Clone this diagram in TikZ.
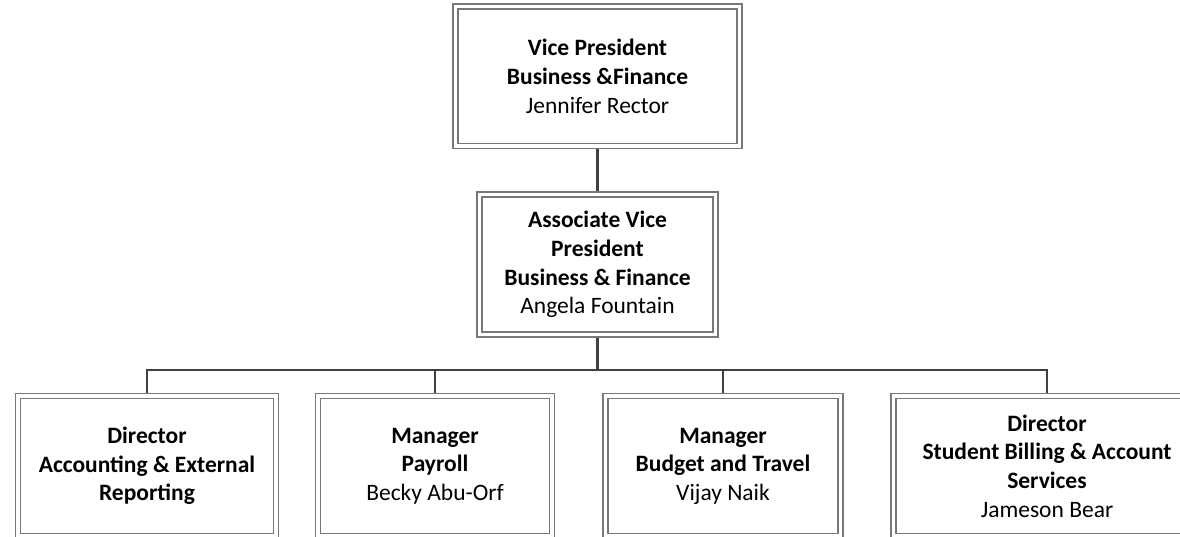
\documentclass[tikz,border=0pt]{standalone}
\usepackage{fontspec}
\setmainfont{Carlito}
\usepackage{tikz}
\definecolor{boxgray}{RGB}{120,120,120}
\definecolor{linegray}{RGB}{64,64,64}

\begin{document}
\begin{tikzpicture}[x=1pt,y=1pt,node distance=288pt,
	shorten <=2.5pt,shorten >=2.5pt]
	\tikzstyle{every node}=[font=\fontsize{23.5}{28.6}\selectfont]
	\tikzstyle{post}=[rectangle,draw=boxgray,double,double distance=3.8pt,line width=1.2pt,
		align=center,inner sep=0pt,minimum height=140pt]
	\tikzstyle{link}=[draw=linegray,line width=2.5pt]
	
	\useasboundingbox (0,0) rectangle (1180,-536);
	
	\node[post,minimum width=284pt,minimum height=139.5pt] (A) at (597.5,-76.25)
		{\textbf{Vice President}\\\textbf{Business \&Finance}\\Jennifer Rector};
	\node[post,minimum width=236pt] (B) [below of=A,node distance=188.25pt]
		{\textbf{Associate Vice}\\\textbf{President}\\\textbf{Business \& Finance}\\Angela Fountain};
	
	\node[post,minimum width=258.5pt] (C) at (147,-466)
		{\textbf{Director}\\\textbf{Accounting \& External}\\\textbf{Reporting}};
	\node[post,minimum width=234.5pt] (D) [right of=C]
		{\textbf{Manager}\\\textbf{Payroll}\\Becky Abu-Orf};
	\node[post,minimum width=235pt]   (E) [right of=D]
		{\textbf{Manager}\\\textbf{Budget and Travel}\\Vijay Naik};
	\node[post,minimum width=307pt]   (F) [right of=E,node distance=324pt]
		{\textbf{Director}\\\textbf{Student Billing \& Account}\\\textbf{Services}\\Jameson Bear};
	
	\coordinate (bus) at (0,-370);
	
	\draw[link] (A.south) -- (B.north);
	
	\draw[link] (B.south) -- (B.south |- bus) -| (C.north);
	\draw[link] (B.south) -- (B.south |- bus) -| (D.north);
	\draw[link] (B.south) -- (B.south |- bus) -| (E.north);
	\draw[link] (B.south) -- (B.south |- bus) -| (F.north);
	
\end{tikzpicture}
\end{document}
